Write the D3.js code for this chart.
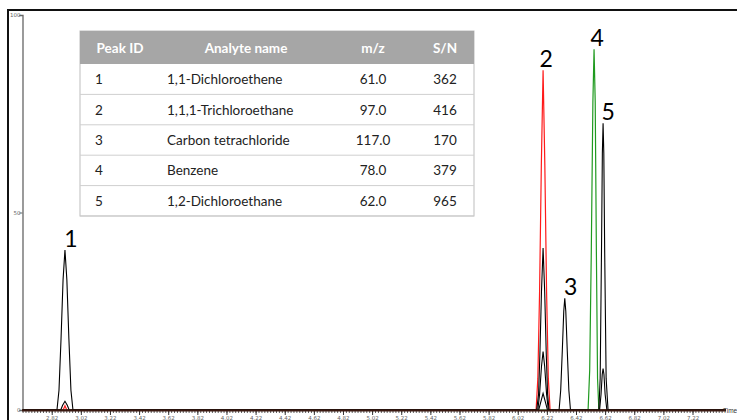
<!DOCTYPE html>
<html>
<head>
<meta charset="utf-8">
<script src="https://cdn.jsdelivr.net/npm/d3@7"></script>
<style>
  body { margin: 0; background: #fff; }
  svg { display: block; }
</style>
</head>
<body>
<svg id="chart" width="737" height="420"></svg>
<script>
// x tick labels (minutes)
tickLabels = ["2.82", "3.02", "3.22", "3.42", "3.62", "3.82", "4.02", "4.22", "4.42", "4.62", "4.82",
    "5.02", "5.22", "5.42", "5.62", "5.82", "6.02", "6.22", "6.42", "6.62", "6.82", "7.02", "7.22"]
yTickLabels = [0, 50, 100]

// traces, [time, relative intensity]
blackMain = [[2.62, 0], [2.856, 0], [2.870, 5], [2.884, 18], [2.898, 33], [2.911, 40.5], [2.924, 33], [2.938, 18], [2.952, 5], [2.966, 0],
    [6.150, 0], [6.163, 4], [6.172, 14], [6.183, 30], [6.194, 41], [6.205, 30], [6.216, 14], [6.225, 4], [6.235, 0],
    [6.304, 0], [6.315, 5], [6.326, 15], [6.336, 25], [6.343, 28.3], [6.350, 25], [6.360, 15], [6.371, 5], [6.382, 0],
    [6.577, 0], [6.586, 8], [6.595, 40], [6.601, 65], [6.606, 72.6], [6.611, 65], [6.617, 40], [6.627, 8], [6.640, 0], [7.45, 0]]
blackSmall = [[2.62, 0], [2.882, 0], [2.895, 1.2], [2.911, 2.2], [2.927, 1.2], [2.940, 0],
    [6.158, 0], [6.170, 4], [6.183, 11], [6.194, 14.8], [6.205, 11], [6.218, 4], [6.230, 0],
    [6.582, 0], [6.592, 4], [6.600, 9], [6.606, 10.5], [6.612, 9], [6.620, 4], [6.632, 0], [7.45, 0]]
blackTiny = [[2.62, 0], [6.164, 0], [6.178, 2], [6.194, 4.2], [6.210, 2], [6.224, 0], [7.45, 0]]
redTrace = [[2.62, 0], [2.898, 0], [2.906, 0.6], [2.911, 1.1], [2.916, 0.6], [2.924, 0],
    [6.146, 0], [6.158, 8], [6.170, 30], [6.182, 62], [6.194, 86], [6.206, 62], [6.218, 30], [6.230, 8], [6.242, 0], [7.45, 0]]
greenTrace = [[2.62, 0], [6.503, 0], [6.514, 10], [6.525, 40], [6.536, 78], [6.544, 91.3], [6.552, 78], [6.560, 40], [6.568, 8], [6.577, 0], [7.45, 0]]

// peak labels
peakIds = ["1", "2", "3", "4", "5"]
peakTimes = [2.911, 6.194, 6.343, 6.544, 6.606]
peakTops = [40.5, 86, 28.3, 91.3, 72.6]

// table
tableHeader = ["Peak ID", "Analyte name", "m/z", "S/N"]
analyteNames = ["1,1-Dichloroethene", "1,1,1-Trichloroethane", "Carbon tetrachloride", "Benzene", "1,2-Dichloroethane"]
mzValues = ["61.0", "97.0", "117.0", "78.0", "62.0"]
snValues = ["362", "416", "170", "379", "965"]

const svg = d3.select("#chart")

// outer frame
svg.append("line").attr("x1", 8).attr("x2", 8).attr("y1", 9).attr("y2", 420)
    .attr("stroke", "#111").attr("stroke-width", 2)
svg.append("line").attr("x1", 7).attr("x2", 737).attr("y1", 10).attr("y2", 10)
    .attr("stroke", "#111").attr("stroke-width", 2)

const x = d3.scaleLinear().domain([2.616, 7.45]).range([22, 726])
const y = d3.scaleLinear().domain([0, 100]).range([410, 15])

// minor ticks
const minorAxis = d3.axisBottom(x)
    .tickValues(d3.range(2.62, 7.44, 0.02))
    .tickSize(3).tickFormat("")
svg.append("g").attr("transform", "translate(0,410)").call(minorAxis)
    .call(g => g.select(".domain").remove())
    .selectAll("line").attr("stroke", "#333").attr("stroke-width", 0.8)

const majorAxis = d3.axisBottom(x)
    .tickValues(tickLabels.map(Number))
    .tickSize(5)
    .tickFormat((d, i) => tickLabels[i])
svg.append("g").attr("transform", "translate(0,410)").call(majorAxis)
    .call(g => g.select(".domain").remove())
    .call(g => g.selectAll("line").attr("stroke", "#333"))
    .call(g => g.selectAll("text").attr("font-size", 5.5).attr("fill", "#666")
        .attr("font-family", "DejaVu Sans").attr("dy", "0.3em"))

// y axis
const yAxis = d3.axisLeft(y).tickValues(yTickLabels).tickSize(3).tickFormat(d => d)
svg.append("g").attr("transform", "translate(22.5,0)").call(yAxis)
    .call(g => g.select(".domain").attr("stroke", "#666").attr("stroke-width", 1.3))
    .call(g => g.selectAll("line").attr("stroke", "#666"))
    .call(g => g.selectAll("text").attr("font-size", 5.5).attr("fill", "#666")
        .attr("font-family", "DejaVu Sans").attr("x", -2))

const line = d3.line().x(d => x(d[0])).y(d => y(d[1]))

svg.append("path").attr("d", line(greenTrace)).attr("fill", "none").attr("stroke", "#1f9a1f").attr("stroke-width", 1.2)
svg.append("path").attr("d", line(redTrace)).attr("fill", "none").attr("stroke", "#ff1a1a").attr("stroke-width", 1.2)
for (const tr of [blackTiny, blackSmall, blackMain]) {
    svg.append("path").attr("d", line(tr)).attr("fill", "none").attr("stroke", "#000").attr("stroke-width", 1.1)
}

// baseline
svg.append("line").attr("x1", 22).attr("x2", 726).attr("y1", 410.5).attr("y2", 410.5)
    .attr("stroke", "#3a1810").attr("stroke-width", 2)

svg.append("text").attr("x", 723).attr("y", 413).attr("font-size", 6.5)
    .attr("font-family", "Liberation Sans").attr("fill", "#333").text("Time")

// peak labels
svg.append("g").selectAll("text")
    .data(peakIds)
    .join("text")
    .attr("x", (d, i) => x(peakTimes[i]) + [6, 3, 6, 3, 5][i])
    .attr("y", (d, i) => y(peakTops[i]) - 3)
    .attr("text-anchor", "middle")
    .attr("font-family", "Lato")
    .attr("font-size", 23)
    .attr("fill", "#000")
    .text(d => d)

// table
const tx = 80, tw = 394, headH = 33, rowH = 30.4, ty = 31
const colCenters = [120, 246, 373, 445]
const tbl = svg.append("g")
tbl.append("rect").attr("x", tx).attr("y", ty).attr("width", tw).attr("height", headH + rowH * 5)
    .attr("fill", "#fff").attr("stroke", "#bdbdbd")
tbl.append("rect").attr("x", tx).attr("y", ty).attr("width", tw).attr("height", headH).attr("fill", "#a6a6a6")
tbl.selectAll(".hdr").data(tableHeader).join("text")
    .attr("x", (d, i) => colCenters[i]).attr("y", ty + headH / 2 + 5)
    .attr("text-anchor", "middle").attr("font-family", "Lato").attr("font-weight", "bold")
    .attr("font-size", 13.5).attr("fill", "#fff").text(d => d)
const rows = tbl.selectAll(".row").data(analyteNames).join("g")
    .attr("transform", (d, i) => `translate(0,${ty + headH + rowH * i})`)
rows.append("line").attr("x1", tx).attr("x2", tx + tw).attr("y1", rowH).attr("y2", rowH)
    .attr("stroke", "#cfcfcf")
const cellText = (sel, xPos, anchor, fn) => sel.append("text").attr("x", xPos).attr("y", rowH / 2 + 5)
    .attr("text-anchor", anchor).attr("font-family", "Lato").attr("font-size", 13.5).attr("fill", "#222").text(fn)
cellText(rows, 95, "start", (d, i) => peakIds[i])
cellText(rows, 167, "start", d => d)
cellText(rows, colCenters[2], "middle", (d, i) => mzValues[i])
cellText(rows, colCenters[3], "middle", (d, i) => snValues[i])
</script>
</body>
</html>
